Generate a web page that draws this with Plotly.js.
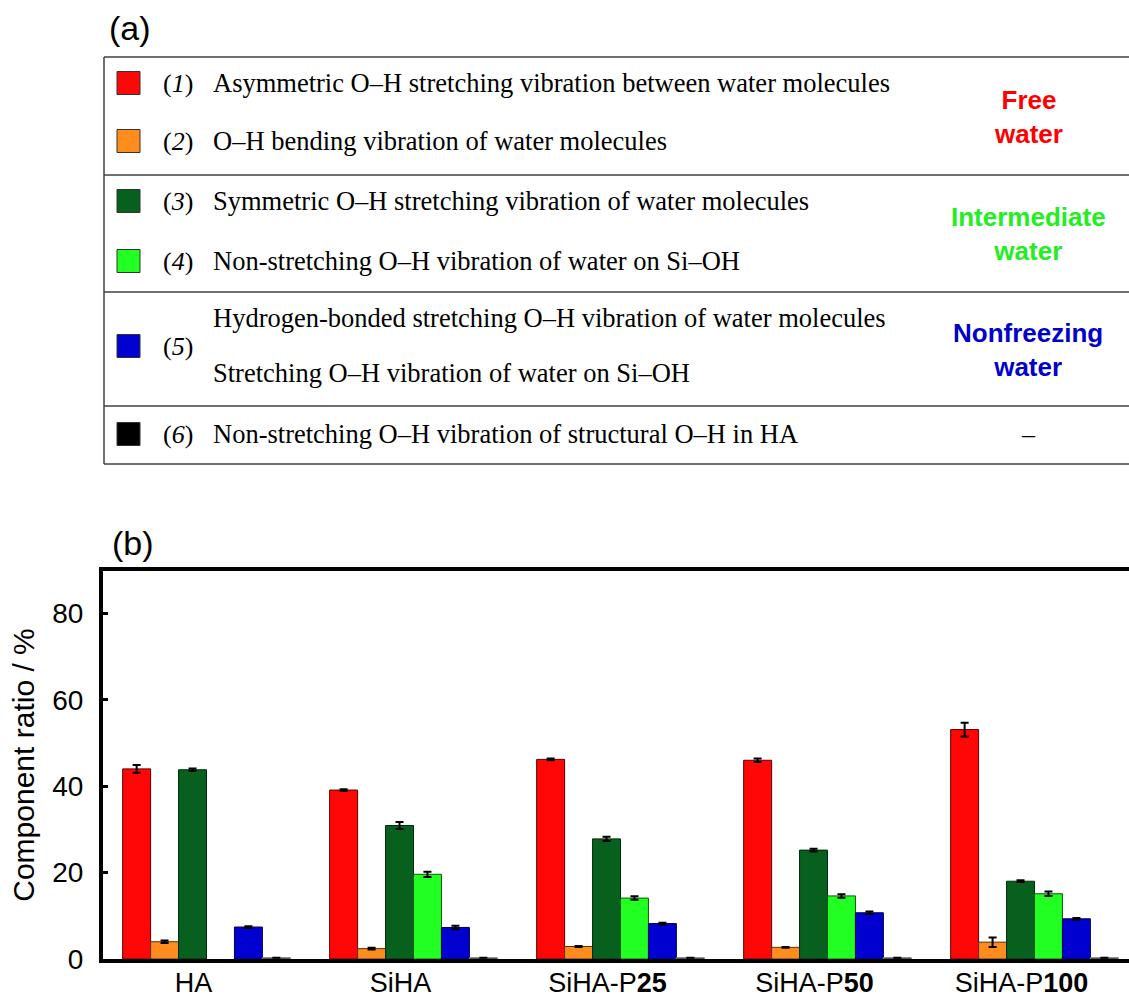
<!DOCTYPE html>
<html>
<head>
<meta charset="utf-8">
<script src="https://cdn.plot.ly/plotly-3.0.1.min.js"></script>
<style>html,body{margin:0;padding:0;background:#fff;}#chart{width:1129px;height:1000px;}</style>
</head>
<body>
<div id="chart"></div>
<script>
// ---- data ----
var categories = ["HA", "SiHA", "SiHA-P<b>25</b>", "SiHA-P<b>50</b>", "SiHA-P<b>100</b>"];
var comp1 = [44.0, 39.1, 46.2, 46.0, 53.1];
var err1  = [0.9, 0.2, 0.2, 0.4, 1.6];
var comp2 = [4.0, 2.4, 2.9, 2.7, 3.9];
var err2  = [0.3, 0.2, 0.1, 0.1, 1.1];
var comp3 = [43.8, 30.9, 27.8, 25.2, 18.0];
var err3  = [0.3, 0.8, 0.5, 0.3, 0.2];
var comp4 = [null, 19.6, 14.1, 14.6, 15.1];
var err4  = [0, 0.6, 0.4, 0.4, 0.5];
var comp5 = [7.4, 7.3, 8.2, 10.7, 9.3];
var err5  = [0.2, 0.4, 0.2, 0.3, 0.2];
var comp6 = [0.3, 0.3, 0.3, 0.3, 0.3];
var err6  = [0, 0, 0, 0, 0];

var compNames = ["(1)", "(2)", "(3)", "(4)", "(5)", "(6)"];
var compDescriptions = [
  ["Asymmetric O\u2013H stretching vibration between water molecules"],
  ["O\u2013H bending vibration of water molecules"],
  ["Symmetric O\u2013H stretching vibration of water molecules"],
  ["Non-stretching O\u2013H vibration of water on Si\u2013OH"],
  ["Hydrogen-bonded stretching O\u2013H vibration of water molecules", "Stretching O\u2013H vibration of water on Si\u2013OH"],
  ["Non-stretching O\u2013H vibration of structural O\u2013H in HA"]
];
var waterTypes = ["Free<br>water", "Intermediate<br>water", "Nonfreezing<br>water", "\u2013"];

// ---- styles ----
var colors = ["#FF0707", "#FF8C1E", "#07601D", "#22FF22", "#0000D0", "#000000"];
var outlines = ["#5a0000", "#5a3000", "#002a0a", "#0a5a0a", "#00004a", "#888888"];
var waterColors = ["#FF0000", "#22EE22", "#0000CC", "#000000"];
var SANS = "Liberation Sans, Arial, sans-serif";
var SERIF = "Liberation Serif, Times New Roman, serif";

var values = [comp1, comp2, comp3, comp4, comp5, comp6];
var errors = [err1, err2, err3, err4, err5, err6];

var traces = values.map(function (v, i) {
  return {
    type: "bar",
    x: categories,
    y: v,
    name: compNames[i],
    marker: {color: colors[i], line: {color: outlines[i], width: 1}},
    error_y: {type: "data", array: errors[i], visible: true, color: "#000", thickness: 2, width: 4}
  };
});

// plot area in pixels
var L = 103, R = 1129, T = 571, B = 959;
function px(x) { return (x - L) / (R - L); }
function py(y) { return (B - y) / (B - T); }

var shapes = [];
var annotations = [];

// table frame
[57, 175, 292, 406, 464].forEach(function (y) {
  shapes.push({type: "line", xref: "paper", yref: "paper", x0: px(104), x1: px(1129), y0: py(y), y1: py(y),
    line: {color: "#404040", width: 1.5}});
});
shapes.push({type: "line", xref: "paper", yref: "paper", x0: px(104), x1: px(104), y0: py(57), y1: py(464),
  line: {color: "#404040", width: 1.5}});

// rows
var rowY = [83, 141, 201, 261, 346, 434];
var descY = [[83], [141], [201], [261], [318, 373], [434]];
for (var i = 0; i < 6; i++) {
  var cy = rowY[i];
  shapes.push({type: "rect", xref: "paper", yref: "paper",
    x0: px(117), x1: px(140), y0: py(cy + 11.5), y1: py(cy - 11.5),
    fillcolor: colors[i], line: {color: "#333", width: 1}});
  annotations.push({xref: "paper", yref: "paper", x: px(161), y: py(cy), xanchor: "left", yanchor: "middle",
    text: "(<i>" + (i + 1) + "</i>)", showarrow: false,
    font: {family: SERIF, size: 26, color: "#000"}});
  compDescriptions[i].forEach(function (d, k) {
    annotations.push({xref: "paper", yref: "paper", x: px(211), y: py(descY[i][k]), xanchor: "left", yanchor: "middle",
      text: d, showarrow: false,
      font: {family: SERIF, size: 26.5, color: "#000"}});
  });
}
var waterY = [117, 234, 350, 434];
waterTypes.forEach(function (t, i) {
  annotations.push({xref: "paper", yref: "paper", x: px(1028), y: py(waterY[i]), xanchor: "center", yanchor: "middle",
    text: i < 3 ? "<b>" + t + "</b>" : t, showarrow: false,
    font: {family: i < 3 ? SANS : SERIF, size: 26, color: waterColors[i]}});
});

// panel labels
annotations.push({xref: "paper", yref: "paper", x: px(107), y: py(28), xanchor: "left", yanchor: "middle",
  text: "(a)", showarrow: false, font: {family: SANS, size: 34, color: "#000"}});
annotations.push({xref: "paper", yref: "paper", x: px(110), y: py(543), xanchor: "left", yanchor: "middle",
  text: "(b)", showarrow: false, font: {family: SANS, size: 34, color: "#000"}});

var layout = {
  width: 1129, height: 1000,
  margin: {l: L, r: 1129 - R, t: T, b: 1000 - B, pad: 0},
  paper_bgcolor: "#fff", plot_bgcolor: "#fff",
  showlegend: false,
  barmode: "group",
  bargap: 0.19,
  bargroupgap: 0,
  font: {family: SANS, size: 26, color: "#000"},
  xaxis: {
    type: "category",
    range: [-0.5, -0.5 + (R - L) / 207],
    showline: true, linecolor: "#000", linewidth: 4, mirror: true,
    ticks: "", showgrid: false, zeroline: false,
    ticklabelshift: -13,
    ticklabelstandoff: -3,
    tickfont: {size: 27, family: SANS}
  },
  yaxis: {
    range: [0, 89.8],
    tickvals: [0, 20, 40, 60, 80],
    showline: true, linecolor: "#000", linewidth: 4, mirror: false,
    ticks: "inside", ticklen: 5, tickwidth: 3, tickcolor: "#000",
    ticklabelstandoff: 10,
    showgrid: false, zeroline: false,
    tickfont: {size: 28, family: SANS},
    title: {text: "Component ratio / %", font: {size: 30, family: SANS}, standoff: 10}
  },
  shapes: shapes,
  annotations: annotations
};

Plotly.newPlot("chart", traces, layout, {displayModeBar: false, staticPlot: true});
</script>
</body>
</html>
